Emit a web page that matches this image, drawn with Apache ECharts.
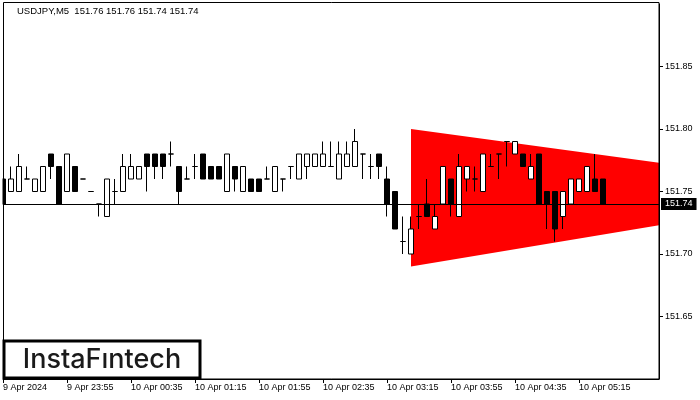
<!DOCTYPE html>
<html>
<head>
<meta charset="utf-8">
<script src="https://cdn.jsdelivr.net/npm/echarts@6/dist/echarts.min.js"></script>
<style>html,body{margin:0;padding:0;background:#fff;}#c{width:700px;height:400px;}</style>
</head>
<body>
<div id="c"></div>
<script>
// 5-minute bars starting 9 Apr 2024 23:15
const opens  = [151.76,151.75,151.75,151.76,151.75,151.75,151.78,151.77,151.75,151.77,
                151.76,151.75,151.74,151.73,151.75,151.75,151.76,151.76,151.78,151.78,
                151.78,151.78,151.77,151.76,151.77,151.78,151.77,151.77,151.75,151.77,
                151.75,151.76,151.76,151.76,151.75,151.76,151.77,151.76,151.77,151.77,
                151.77,151.77,151.76,151.77,151.77,151.78,151.77,151.78,151.76,151.75,
                151.71,151.70,151.73,151.74,151.72,151.74,151.76,151.73,151.76,151.76,
                151.75,151.77,151.78,151.79,151.78,151.78,151.76,151.78,151.75,151.75,
                151.73,151.74,151.75,151.75,151.76,151.76];
const closes = [151.74,151.76,151.77,151.76,151.76,151.77,151.77,151.74,151.78,151.75,
                151.76,151.75,151.74,151.76,151.75,151.77,151.77,151.77,151.77,151.77,
                151.77,151.78,151.75,151.76,151.77,151.76,151.76,151.76,151.78,151.76,
                151.77,151.75,151.75,151.76,151.77,151.76,151.77,151.78,151.78,151.78,
                151.78,151.77,151.78,151.78,151.79,151.78,151.77,151.77,151.74,151.72,
                151.71,151.72,151.73,151.73,151.73,151.77,151.74,151.77,151.77,151.76,
                151.78,151.77,151.78,151.79,151.79,151.77,151.77,151.74,151.74,151.72,
                151.75,151.76,151.76,151.77,151.75,151.74];
const highs  = [151.76,151.77,151.78,151.77,151.76,151.77,151.78,151.77,151.78,151.77,
                151.76,151.75,151.74,151.76,151.76,151.78,151.78,151.77,151.78,151.78,
                151.78,151.79,151.77,151.77,151.78,151.78,151.77,151.77,151.78,151.77,
                151.77,151.76,151.76,151.77,151.77,151.76,151.77,151.78,151.78,151.78,
                151.79,151.79,151.79,151.79,151.80,151.78,151.78,151.78,151.77,151.75,
                151.73,151.73,151.74,151.76,151.74,151.77,151.76,151.78,151.77,151.77,
                151.78,151.78,151.78,151.79,151.79,151.78,151.78,151.78,151.75,151.75,
                151.75,151.76,151.76,151.77,151.78,151.76];
const lows   = [151.74,151.75,151.75,151.76,151.75,151.75,151.76,151.74,151.75,151.75,
                151.76,151.75,151.73,151.73,151.74,151.75,151.76,151.76,151.75,151.76,
                151.76,151.77,151.74,151.76,151.76,151.76,151.76,151.76,151.75,151.75,
                151.75,151.75,151.75,151.76,151.75,151.75,151.76,151.76,151.76,151.77,
                151.77,151.77,151.76,151.77,151.77,151.76,151.76,151.76,151.73,151.72,
                151.70,151.70,151.72,151.73,151.72,151.74,151.73,151.73,151.75,151.75,
                151.75,151.77,151.76,151.77,151.78,151.77,151.76,151.74,151.72,151.71,
                151.72,151.74,151.75,151.75,151.75,151.74];
const tickLabels = ["9 Apr 2024","9 Apr 23:55","10 Apr 00:35","10 Apr 01:15","10 Apr 01:55",
                    "10 Apr 02:35","10 Apr 03:15","10 Apr 03:55","10 Apr 04:35","10 Apr 05:15"];
const priceTicks = [151.65, 151.70, 151.75, 151.80, 151.85];
const slotCount = 83;           // bar slots visible on the chart (incl. empty right margin)
const triX      = [51, 82];     // slot index of triangle left / right edge
const triTop    = [151.80, 151.773];
const triBottom = [151.69, 151.723];
const lastPrice = 151.74;
const titleText = "USDJPY,M5  151.76 151.76 151.74 151.74";

// categories: 5-minute time slots
const categories = [];
for (let i = 0; i < slotCount; i++) {
  const m = 23 * 60 + 15 + i * 5;
  const mm = m % 1440;
  const h = Math.floor(mm / 60), mi = mm % 60;
  categories.push((m >= 1440 ? "10 Apr " : "9 Apr ") + String(h).padStart(2, "0") + ":" + String(mi).padStart(2, "0"));
}
const candleData = opens.map((o, i) => [o, closes[i], lows[i], highs[i]]);
const labelled = idx => idx % 8 === 0 && idx / 8 < tickLabels.length;

const FONT = "Liberation Sans";
const chart = echarts.init(document.getElementById("c"), null, {renderer: "canvas"});
chart.setOption({
  animation: false,
  backgroundColor: "#fff",
  grid: {left: 3, right: 41, top: 4, bottom: 21, show: false},
  xAxis: {
    type: "category", data: categories, boundaryGap: false,
    axisLine: {show: true, lineStyle: {color: "#000", width: 1}},
    axisTick: {show: true, inside: false, length: 4, interval: labelled, lineStyle: {color: "#000"}},
    axisLabel: {
      interval: labelled, align: "left", margin: 4, color: "#000", fontFamily: FONT, fontSize: 9,
      formatter: (v, idx) => tickLabels[idx / 8] || ""
    },
    splitLine: {show: false}
  },
  yAxis: {
    type: "value", position: "right", min: 151.60, max: 151.90, interval: 0.05,
    axisLine: {show: true, lineStyle: {color: "#000", width: 1}},
    axisTick: {show: true, inside: false, length: 4, customValues: priceTicks, lineStyle: {color: "#000"}},
    axisLabel: {
      margin: 6, color: "#000", fontFamily: FONT, fontSize: 9, customValues: priceTicks,
      formatter: v => v.toFixed(2)
    },
    splitLine: {show: false}
  },
  series: [
    {
      type: "custom", z: 1, silent: true, clip: true,
      data: [0],
      renderItem: (params, api) => {
        const pts = [
          api.coord([triX[0], triTop[0]]),
          api.coord([triX[1], triTop[1]]),
          api.coord([triX[1], triBottom[1]]),
          api.coord([triX[0], triBottom[0]])
        ];
        return {type: "polygon", shape: {points: pts}, style: {fill: "#ff0000", stroke: null}};
      }
    },
    {
      type: "candlestick", z: 3, data: candleData, barWidth: 5, clip: true,
      itemStyle: {color: "#fff", color0: "#000", borderColor: "#000", borderColor0: "#000", borderWidth: 1},
      markLine: {
        silent: true, symbol: ["none", "none"], animation: false,
        lineStyle: {color: "#000", width: 1, type: "solid"},
        label: {
          show: true, position: "end", distance: 2, formatter: lastPrice.toFixed(2),
          color: "#fff", backgroundColor: "#000", padding: [2, 4, 1, 4],
          fontFamily: FONT, fontSize: 9
        },
        data: [{yAxis: lastPrice}]
      }
    }
  ],
  graphic: [
    {type: "rect", silent: true, z: 20, shape: {x: 0, y: 0, width: 2.5, height: 380}, style: {fill: "#fff"}},
    {type: "rect", silent: true, z: 21, shape: {x: 3.5, y: 2.5, width: 655.5, height: 376.5}, style: {fill: null, stroke: "#000", lineWidth: 1}},
    {type: "text", left: 17, top: 6, z: 22, style: {text: titleText, fill: "#000", font: "9.5px 'Liberation Sans'"}},
    {type: "rect", shape: {x: 4, y: 341, width: 196, height: 37}, style: {fill: "#fff", stroke: "#000", lineWidth: 3}, z: 30},
    {type: "text", x: 102, y: 360, z: 31, style: {text: "InstaF\u0131ntech", fill: "#1a1a1a", font: "500 27px Inter", align: "center", verticalAlign: "middle"}}
  ]
});
</script>
</body>
</html>
